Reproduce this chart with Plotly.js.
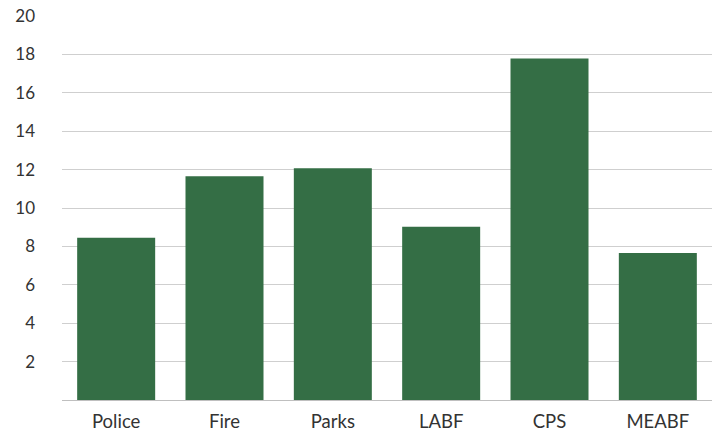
<!DOCTYPE html>
<html>
<head>
<meta charset="utf-8">
<script src="https://cdn.plot.ly/plotly-3.0.1.min.js"></script>
<style>html,body{margin:0;padding:0;background:#fff;}#chart{width:717px;height:435px;}</style>
</head>
<body>
<div id="chart"></div>
<script>
const categories = ["Police", "Fire", "Parks", "LABF", "CPS", "MEABF"];
const values = [8.45, 11.65, 12.07, 9.02, 17.79, 7.65];
const yTicks = [2, 4, 6, 8, 10, 12, 14, 16, 18, 20];

const trace = {
  type: "bar",
  x: categories,
  y: values,
  marker: {color: "#346e45"},
  hoverinfo: "x+y"
};

const layout = {
  width: 717,
  height: 435,
  margin: {l: 62, r: 5, t: 16, b: 35},
  paper_bgcolor: "#ffffff",
  plot_bgcolor: "#ffffff",
  bargap: 0.28,
  showlegend: false,
  font: {family: "Lato, 'Open Sans', sans-serif", size: 17, color: "#333333"},
  xaxis: {
    showgrid: false,
    showline: true,
    linecolor: "#bfbfbf",
    linewidth: 1,
    ticks: "",
    ticklabelstandoff: 5,
    tickfont: {size: 18.5, color: "#333333"}
  },
  yaxis: {
    range: [0, 20],
    tickvals: yTicks,
    ticktext: yTicks.map(String),
    showgrid: true,
    gridcolor: "#cfcfcf",
    gridwidth: 1,
    zeroline: false,
    showline: false,
    ticks: "",
    ticklabelstandoff: 26,
    tickfont: {size: 17, color: "#333333"}
  }
};

Plotly.newPlot("chart", [trace], layout, {displayModeBar: false, staticPlot: true});
</script>
</body>
</html>
